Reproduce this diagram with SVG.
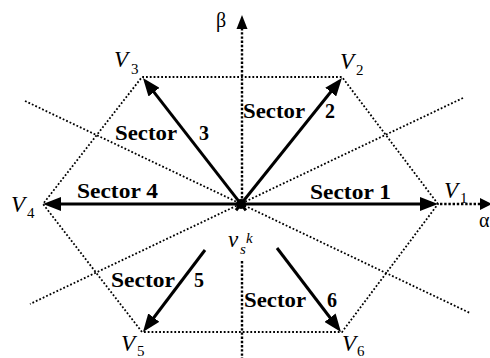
<svg xmlns="http://www.w3.org/2000/svg" width="490" height="358" viewBox="0 0 490 358">
<style>
.dot{fill:none;stroke:#000;stroke-width:1.8;stroke-dasharray:1.8 2}
.axis{fill:none;stroke:#000;stroke-width:2.4;stroke-dasharray:2.4 1.8}
.vec{fill:none;stroke:#000;stroke-width:3}
.sec{font-weight:bold;font-size:20px}
.vl{font-style:italic;font-size:23px}
.sub{font-size:15px}
.ax{font-size:20px}
</style>
<defs>
<marker id="ah" viewBox="0 0 18 14" refX="8" refY="7" markerWidth="18" markerHeight="14" markerUnits="userSpaceOnUse" orient="auto">
<path d="M0,0 L18,7 L0,14 z" fill="#000"/>
</marker>
</defs>
<rect width="490" height="358" fill="#fff"/>
<g id="grid">
<polygon class="dot" points="438,204 342,77 142,77 43,204 142,332 342,332"/>
<line class="dot" x1="25" y1="101" x2="470" y2="313"/>
<line class="dot" x1="463" y1="98" x2="30" y2="304"/>
</g>
<g id="connectors">
<line class="vec" x1="241" y1="204" x2="428" y2="204" marker-end="url(#ah)"/>
<line class="vec" x1="241" y1="204" x2="53" y2="204" marker-end="url(#ah)"/>
<line class="vec" x1="236" y1="210.2" x2="335.7" y2="85.8" marker-end="url(#ah)"/>
<line class="vec" x1="245.9" y1="210.3" x2="149.1" y2="85.9" marker-end="url(#ah)"/>
<line class="vec" x1="205" y1="250" x2="149" y2="324" marker-end="url(#ah)"/>
<line class="vec" x1="277" y1="248" x2="334.9" y2="324" marker-end="url(#ah)"/>
<circle cx="241" cy="204" r="5" fill="#000"/>
</g>
<g font-family="Liberation Serif, serif" fill="#000">
<g id="axes">
<line class="axis" x1="242" y1="28" x2="242" y2="204"/>
<line class="axis" x1="242" y1="261" x2="242" y2="358"/>
<polygon points="242,15 236.5,29 247.5,29" fill="#000"/>
<text class="ax" x="216" y="27">β</text>
<line class="axis" x1="440" y1="204" x2="481" y2="204"/>
<polygon points="492,204 480,198 480,210" fill="#000"/>
<text class="ax" x="479" y="227">α</text>
</g>
<g id="V1"><text class="vl" x="444" y="198">V</text><text class="sub" x="460" y="203">1</text></g>
<g id="V2"><text class="vl" x="340" y="69">V</text><text class="sub" x="356" y="75">2</text></g>
<g id="V3"><text class="vl" x="114" y="67">V</text><text class="sub" x="131" y="74">3</text></g>
<g id="V4"><text class="vl" x="11" y="212">V</text><text class="sub" x="27" y="218">4</text></g>
<g id="V5"><text class="vl" x="121" y="351">V</text><text class="sub" x="137" y="356">5</text></g>
<g id="V6"><text class="vl" x="342" y="351">V</text><text class="sub" x="357" y="356">6</text></g>
<g id="vsk"><text class="vl" x="228" y="247" font-size="24">v</text><text class="sub" x="240" y="254" font-style="italic">s</text><text class="sub" x="246" y="243" font-style="italic">k</text></g>
<g id="sector1"><text class="sec" x="310" y="199" textLength="81" lengthAdjust="spacingAndGlyphs">Sector 1</text></g>
<g id="sector2"><text class="sec" x="243" y="118" textLength="62" lengthAdjust="spacingAndGlyphs">Sector</text><text class="sec" x="325" y="118">2</text></g>
<g id="sector3"><text class="sec" x="115" y="140" textLength="62" lengthAdjust="spacingAndGlyphs">Sector</text><text class="sec" x="199" y="140">3</text></g>
<g id="sector4"><text class="sec" x="77" y="198" textLength="81" lengthAdjust="spacingAndGlyphs">Sector 4</text></g>
<g id="sector5"><text class="sec" x="111" y="287" textLength="64" lengthAdjust="spacingAndGlyphs">Sector</text><text class="sec" x="194" y="287">5</text></g>
<g id="sector6"><text class="sec" x="244" y="307" textLength="62" lengthAdjust="spacingAndGlyphs">Sector</text><text class="sec" x="327" y="307">6</text></g>
</g>
</svg>
